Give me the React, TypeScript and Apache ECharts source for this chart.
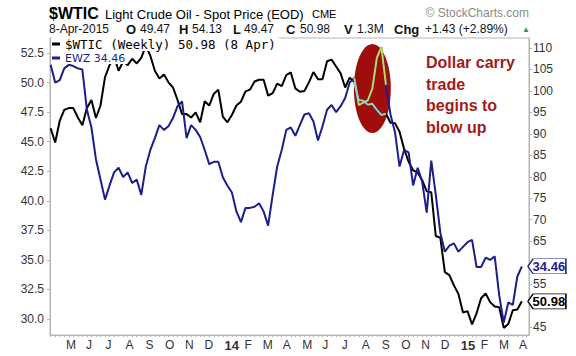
import React, { useEffect, useRef } from 'react';
import * as echarts from 'echarts';

// Weekly closes, week ending Fridays from 12-Apr-2013; last point = 8-Apr-2015
const wtic: number[] = [
  91.3, 88.0, 93.0, 95.6, 96.0, 96.0, 93.8, 92.0, 96.0, 97.9,
  93.7, 96.6, 103.2, 106.0, 108.0, 104.7, 106.9, 106.0, 107.5, 106.4,
  107.7, 110.5, 108.2, 104.7, 102.9, 103.8, 102.0, 100.8, 97.9, 94.6,
  94.6, 93.8, 95.0, 92.7, 97.6, 96.6, 99.3, 100.3, 94.0, 92.7,
  94.4, 96.6, 97.5, 99.9, 100.3, 102.2, 102.6, 102.6, 98.9, 99.5,
  101.7, 101.1, 103.7, 104.3, 100.6, 99.8, 100.0, 102.0, 104.4, 102.7,
  102.7, 106.9, 107.3, 105.7, 104.1, 100.8, 103.1, 102.1, 97.9, 97.7,
  96.8, 97.0, 95.6, 94.4, 94.7, 92.6, 92.5, 90.5, 86.5, 83.5,
  81.5, 81.0, 79.2, 76.6, 76.4, 66.2, 65.8, 57.8, 57.1, 54.7,
  52.7, 48.4, 48.7, 45.6, 48.2, 51.7, 52.8, 50.8, 49.8, 49.6,
  44.8, 45.7, 48.9, 49.1, 50.98,
];
const ewz: number[] = [
  51.5, 50.0, 50.2, 51.2, 51.5, 51.4, 51.2, 51.1, 47.7, 46.2,
  43.5, 41.8, 40.1, 41.3, 42.4, 42.8, 42.0, 42.4, 41.5, 41.8,
  40.5, 42.9, 44.3, 45.3, 46.4, 46.0, 46.3, 47.0, 48.0, 48.4,
  45.3, 46.4, 46.0, 45.4, 44.3, 43.1, 43.3, 43.3, 42.0, 41.3,
  40.7, 39.1, 38.2, 39.4, 39.4, 39.5, 39.8, 39.1, 37.9, 40.5,
  42.9, 44.3, 46.0, 46.2, 45.5, 46.4, 47.3, 47.4, 46.7, 45.1,
  46.3, 47.7, 48.1, 47.5, 48.0, 48.7, 50.0, 50.4, 48.1, 48.3,
  48.5, 49.5, 52.1, 53.0, 49.8, 47.3, 45.8, 42.9, 44.3, 44.1,
  41.3, 42.8, 41.6, 39.0, 43.4, 40.5, 37.3, 35.7, 36.2, 36.4,
  35.7, 36.1, 36.5, 36.7, 34.4, 34.4, 35.2, 35.0, 35.3, 32.0,
  29.7, 31.4, 31.2, 33.6, 34.46,
];
const leftTicks: number[] = [30, 32.5, 35, 37.5, 40, 42.5, 45, 47.5, 50, 52.5];
const rightTicks: number[] = [45, 50, 55, 60, 65, 70, 75, 80, 85, 90, 95, 100, 105, 110];
// 50 and 60 sit under the last-value tags, as in the reference
const rightLabels: number[] = [45, 55, 65, 70, 75, 80, 85, 90, 95, 100, 105, 110];
const monthLetters: string[] = ['J', 'F', 'M', 'A', 'M', 'J', 'J', 'A', 'S', 'O', 'N', 'D'];
const header: [string, string][] = [
  ['O', '49.47'], ['H', '54.13'], ['L', '49.47'], ['C', '50.98'], ['V', '1.3M'], ['Chg', '+1.43 (+2.89%)'],
];
const headerX: number[] = [126, 179, 233, 286, 344, 394];
const headerGap: number[] = [14, 13, 11, 14, 13, 31];
const highlightFrom = 67;
const highlightTo = 74;
const ellipseDate = '2014-08-22';
const ellipseValue = 49.5;

const DAY = 86400000;
const iso = (t: number) => new Date(t).toISOString().slice(0, 10);
const days: string[] = [];
for (let t = Date.UTC(2013, 3, 11); t <= Date.UTC(2015, 3, 21); t += DAY) days.push(iso(t));
const dayIndex = new Map<string, number>(days.map((d, i) => [d, i]));
const weekDates: string[] = wtic.map((_, i) => iso(Date.UTC(2013, 3, 12) + i * 7 * DAY));

const BLUE = '#1d1d8c';
const FONT = '"Liberation Sans", Arial, sans-serif';

export default function App() {
  const ref = useRef<HTMLDivElement>(null);
  useEffect(() => {
    if (!ref.current) return;
    const chart = echarts.init(ref.current, undefined, { renderer: 'svg' });
    const pts = (vals: number[], from = 0, to = vals.length - 1) =>
      weekDates.slice(from, to + 1).map((d, k) => [dayIndex.get(d) as number, vals[from + k]]);
    const lastI = wtic.length - 1;
    const lastX = dayIndex.get(weekDates[lastI]) as number;
    const tag = (val: number, color: string) => ({
      silent: true,
      symbol: 'path://M0,7L6,0L44,0L44,14L6,14Z',
      symbolSize: [38, 15],
      symbolOffset: [25, 0],
      itemStyle: { color: '#fff', borderColor: color, borderWidth: 1, opacity: 1 },
      label: {
        show: true, position: 'inside', offset: [2, 0], formatter: val.toFixed(2),
        color, fontWeight: 'bold', fontSize: 13, fontFamily: FONT,
      },
      data: [{ coord: [lastX, val], value: val }],
    });

    const graphic: any[] = [
      { type: 'text', x: 49, y: 13, style: { text: '$WTIC', font: `bold 16px ${FONT}`, fill: '#000', verticalAlign: 'middle' } },
      { type: 'text', x: 105, y: 14, style: { text: 'Light Crude Oil - Spot Price (EOD)', font: `13px ${FONT}`, fill: '#000', verticalAlign: 'middle' } },
      { type: 'text', x: 312, y: 14, style: { text: 'CME', font: `11px ${FONT}`, fill: '#000', verticalAlign: 'middle' } },
      { type: 'text', x: 529, y: 13, style: { text: '© StockCharts.com', font: `12px ${FONT}`, fill: '#8a8a8a', align: 'right', verticalAlign: 'middle' } },
      { type: 'text', x: 49, y: 29, style: { text: '8-Apr-2015', font: `12px ${FONT}`, fill: '#111', verticalAlign: 'middle' } },
      { type: 'text', x: 522, y: 29, style: { text: '▲', font: `8px ${FONT}`, fill: '#2e9a3e', verticalAlign: 'middle' } },
      {
        type: 'text', x: 426, y: 52,
        style: {
          text: 'Dollar carry\ntrade\nbegins to\nblow up', font: `bold 16px ${FONT}`,
          fill: '#a2191c', lineHeight: 21.5, verticalAlign: 'top',
        },
      },
    ];
    header.forEach(([k, v], i) => {
      graphic.push({ type: 'text', x: headerX[i], y: 29, style: { text: k, font: `bold 13px ${FONT}`, fill: '#111', verticalAlign: 'middle' } });
      graphic.push({ type: 'text', x: headerX[i] + headerGap[i], y: 29, style: { text: v, font: `12px ${FONT}`, fill: '#111', verticalAlign: 'middle' } });
    });

    const axisLineColor = '#b4b4b4';
    chart.setOption({
      animation: false,
      backgroundColor: '#fff',
      grid: { left: 50, right: 47, top: 38, bottom: 21, show: true, borderColor: axisLineColor, borderWidth: 1, containLabel: false, outerBoundsMode: 'none' },
      legend: [
        {
          data: ['$WTIC'], left: 51, top: 37, padding: [0, 3, 0, 1], itemWidth: 8, itemHeight: 3, icon: 'rect',
          backgroundColor: '#fff', selectedMode: false,
          formatter: () => `$WTIC (Weekly) ${wtic[lastI].toFixed(2)} (8 Apr)`,
          textStyle: { fontFamily: '"DejaVu Sans Mono", monospace', fontSize: 12.5, lineHeight: 14, color: '#000' },
        },
        {
          data: ['EWZ'], left: 51, top: 52, padding: [0, 2, 0, 1], itemWidth: 8, itemHeight: 3, icon: 'rect',
          backgroundColor: '#fff', selectedMode: false,
          formatter: () => `EWZ ${ewz[lastI].toFixed(2)}`,
          textStyle: { fontFamily: '"DejaVu Sans", sans-serif', fontSize: 11, lineHeight: 12, color: BLUE },
        },
      ],
      xAxis: {
        type: 'category', data: days, boundaryGap: false,
        axisLine: { lineStyle: { color: axisLineColor } },
        axisTick: {
          show: true, length: 2, lineStyle: { color: axisLineColor },
          interval: (_i: number, v: string) => new Date(v + 'T00:00:00Z').getUTCDay() === 5,
        },
        axisLabel: {
          interval: (_i: number, v: string) => v.slice(8, 10) === '01',
          formatter: (v: string) => {
            const m = +v.slice(5, 7);
            return m === 1 ? `{y|${v.slice(2, 4)}}` : monthLetters[m - 1];
          },
          align: 'left', padding: [0, 0, 0, 3], margin: 4,
          color: '#333', fontSize: 12, fontFamily: FONT,
          rich: { y: { fontWeight: 'bold', fontSize: 13, color: '#333', fontFamily: FONT } },
        },
        splitLine: { show: false },
      },
      yAxis: [
        {
          type: 'value', position: 'left', min: 28.65, max: 53.77, splitLine: { show: false },
          axisLine: { show: true, lineStyle: { color: axisLineColor } },
          axisTick: { show: true, length: 3, customValues: leftTicks, lineStyle: { color: axisLineColor } },
          axisLabel: { customValues: leftTicks, formatter: (v: number) => v.toFixed(1), margin: 6, color: '#333', fontSize: 12, fontFamily: FONT },
        },
        {
          type: 'value', position: 'right', min: 43.14, max: 112.33, splitLine: { show: false },
          axisLine: { show: true, lineStyle: { color: axisLineColor } },
          axisTick: { show: true, length: 3, customValues: rightTicks, lineStyle: { color: axisLineColor } },
          axisLabel: { customValues: rightLabels, formatter: (v: number) => String(v), margin: 4, color: '#333', fontSize: 12, fontFamily: FONT },
        },
      ],
      series: [
        {
          type: 'scatter', name: 'ellipse', yAxisIndex: 0, silent: true, z: 1,
          symbol: 'circle', symbolSize: [37, 89],
          itemStyle: { color: '#a00d0d', opacity: 1 },
          data: [[dayIndex.get(ellipseDate) as number, ellipseValue]],
        },
        {
          type: 'line', name: '$WTIC', yAxisIndex: 1, showSymbol: false, silent: true,
          lineStyle: { color: '#000', width: 2 }, itemStyle: { color: '#000' },
          data: pts(wtic), markPoint: tag(wtic[lastI], '#000'),
        },
        {
          type: 'line', name: 'EWZ', yAxisIndex: 0, showSymbol: false, silent: true,
          lineStyle: { color: BLUE, width: 2 }, itemStyle: { color: BLUE },
          data: pts(ewz), markPoint: tag(ewz[lastI], BLUE),
        },
        {
          type: 'line', name: 'EWZ-hl', yAxisIndex: 0, showSymbol: false, silent: true,
          lineStyle: { color: '#b6dc58', width: 2 },
          data: pts(ewz, highlightFrom, highlightTo),
        },
        {
          type: 'line', name: 'WTIC-hl', yAxisIndex: 1, showSymbol: false, silent: true,
          lineStyle: { color: '#8fd6d2', width: 2 },
          data: pts(wtic, highlightFrom, highlightTo),
        },
      ],
      graphic,
    });
    return () => chart.dispose();
  }, []);
  return <div ref={ref} style={{ position: 'fixed', left: 0, top: 0, width: 576, height: 356, background: '#fff' }} />;
}
